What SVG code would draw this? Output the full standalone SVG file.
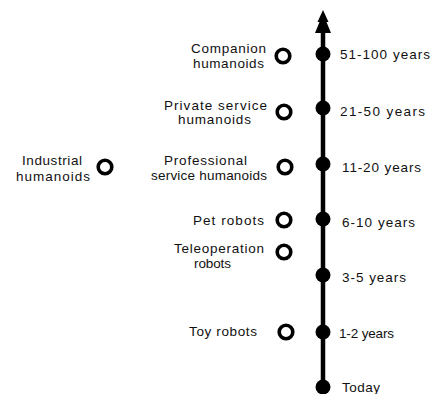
<svg xmlns="http://www.w3.org/2000/svg" width="433" height="394" viewBox="0 0 433 394">
<style>
text{font-family:"Liberation Sans",Arial,sans-serif;font-size:13.5px;fill:#111}
.ring{fill:#fff;stroke:#000;stroke-width:3.6}
.dot{fill:#000}
.axis{stroke:#000;stroke-width:4.5;fill:none}
</style>
<rect width="433" height="394" fill="#fff"/>
<g id="connectors">
<line class="axis" x1="323" y1="28" x2="323" y2="388"/>
<polygon points="323,10 328.5,22 326.5,22 331,33 315,33 319.5,22 317.5,22" fill="#000"/>
</g>
<g id="t51-100"><circle class="dot" cx="323" cy="54" r="7.5"/><text x="340" y="59" textLength="90" lengthAdjust="spacing">51-100 years</text></g>
<g id="t21-50"><circle class="dot" cx="323" cy="108" r="7.5"/><text x="340" y="116" textLength="85" lengthAdjust="spacing">21-50 years</text></g>
<g id="t11-20"><circle class="dot" cx="323" cy="164" r="7.5"/><text x="342" y="172" textLength="79" lengthAdjust="spacing">11-20 years</text></g>
<g id="t6-10"><circle class="dot" cx="323" cy="219" r="7.5"/><text x="342" y="227" textLength="73" lengthAdjust="spacing">6-10 years</text></g>
<g id="t3-5"><circle class="dot" cx="323" cy="275" r="7.5"/><text x="342" y="282" textLength="64" lengthAdjust="spacing">3-5 years</text></g>
<g id="t1-2"><circle class="dot" cx="323" cy="332" r="7.5"/><text x="339" y="338" textLength="55" lengthAdjust="spacing">1-2 years</text></g>
<g id="today"><circle class="dot" cx="323" cy="387" r="7.5"/><text x="342" y="392" textLength="38" lengthAdjust="spacing">Today</text></g>
<g id="companion"><circle class="ring" cx="283" cy="56" r="6.8"/><text x="191" y="53" textLength="75" lengthAdjust="spacing">Companion</text><text x="193" y="68" textLength="71" lengthAdjust="spacing">humanoids</text></g>
<g id="private"><circle class="ring" cx="284" cy="112" r="6.8"/><text x="164" y="110" textLength="103" lengthAdjust="spacing">Private service</text><text x="178" y="124" textLength="73" lengthAdjust="spacing">humanoids</text></g>
<g id="industrial"><circle class="ring" cx="105" cy="167" r="6.8"/><text x="22" y="165" textLength="60" lengthAdjust="spacing">Industrial</text><text x="16" y="181" textLength="74" lengthAdjust="spacing">humanoids</text></g>
<g id="professional"><circle class="ring" cx="285" cy="167" r="6.8"/><text x="164" y="165" textLength="83" lengthAdjust="spacing">Professional</text><text x="151" y="180" textLength="116" lengthAdjust="spacing">service humanoids</text></g>
<g id="pet"><circle class="ring" cx="284" cy="220" r="6.8"/><text x="193" y="225" textLength="71" lengthAdjust="spacing">Pet robots</text></g>
<g id="teleoperation"><circle class="ring" cx="284" cy="252" r="6.8"/><text x="174" y="253" textLength="90" lengthAdjust="spacing">Teleoperation</text><text x="194" y="268" textLength="37" lengthAdjust="spacing">robots</text></g>
<g id="toy"><circle class="ring" cx="286" cy="332" r="6.8"/><text x="189" y="336" textLength="68" lengthAdjust="spacing">Toy robots</text></g>
</svg>
